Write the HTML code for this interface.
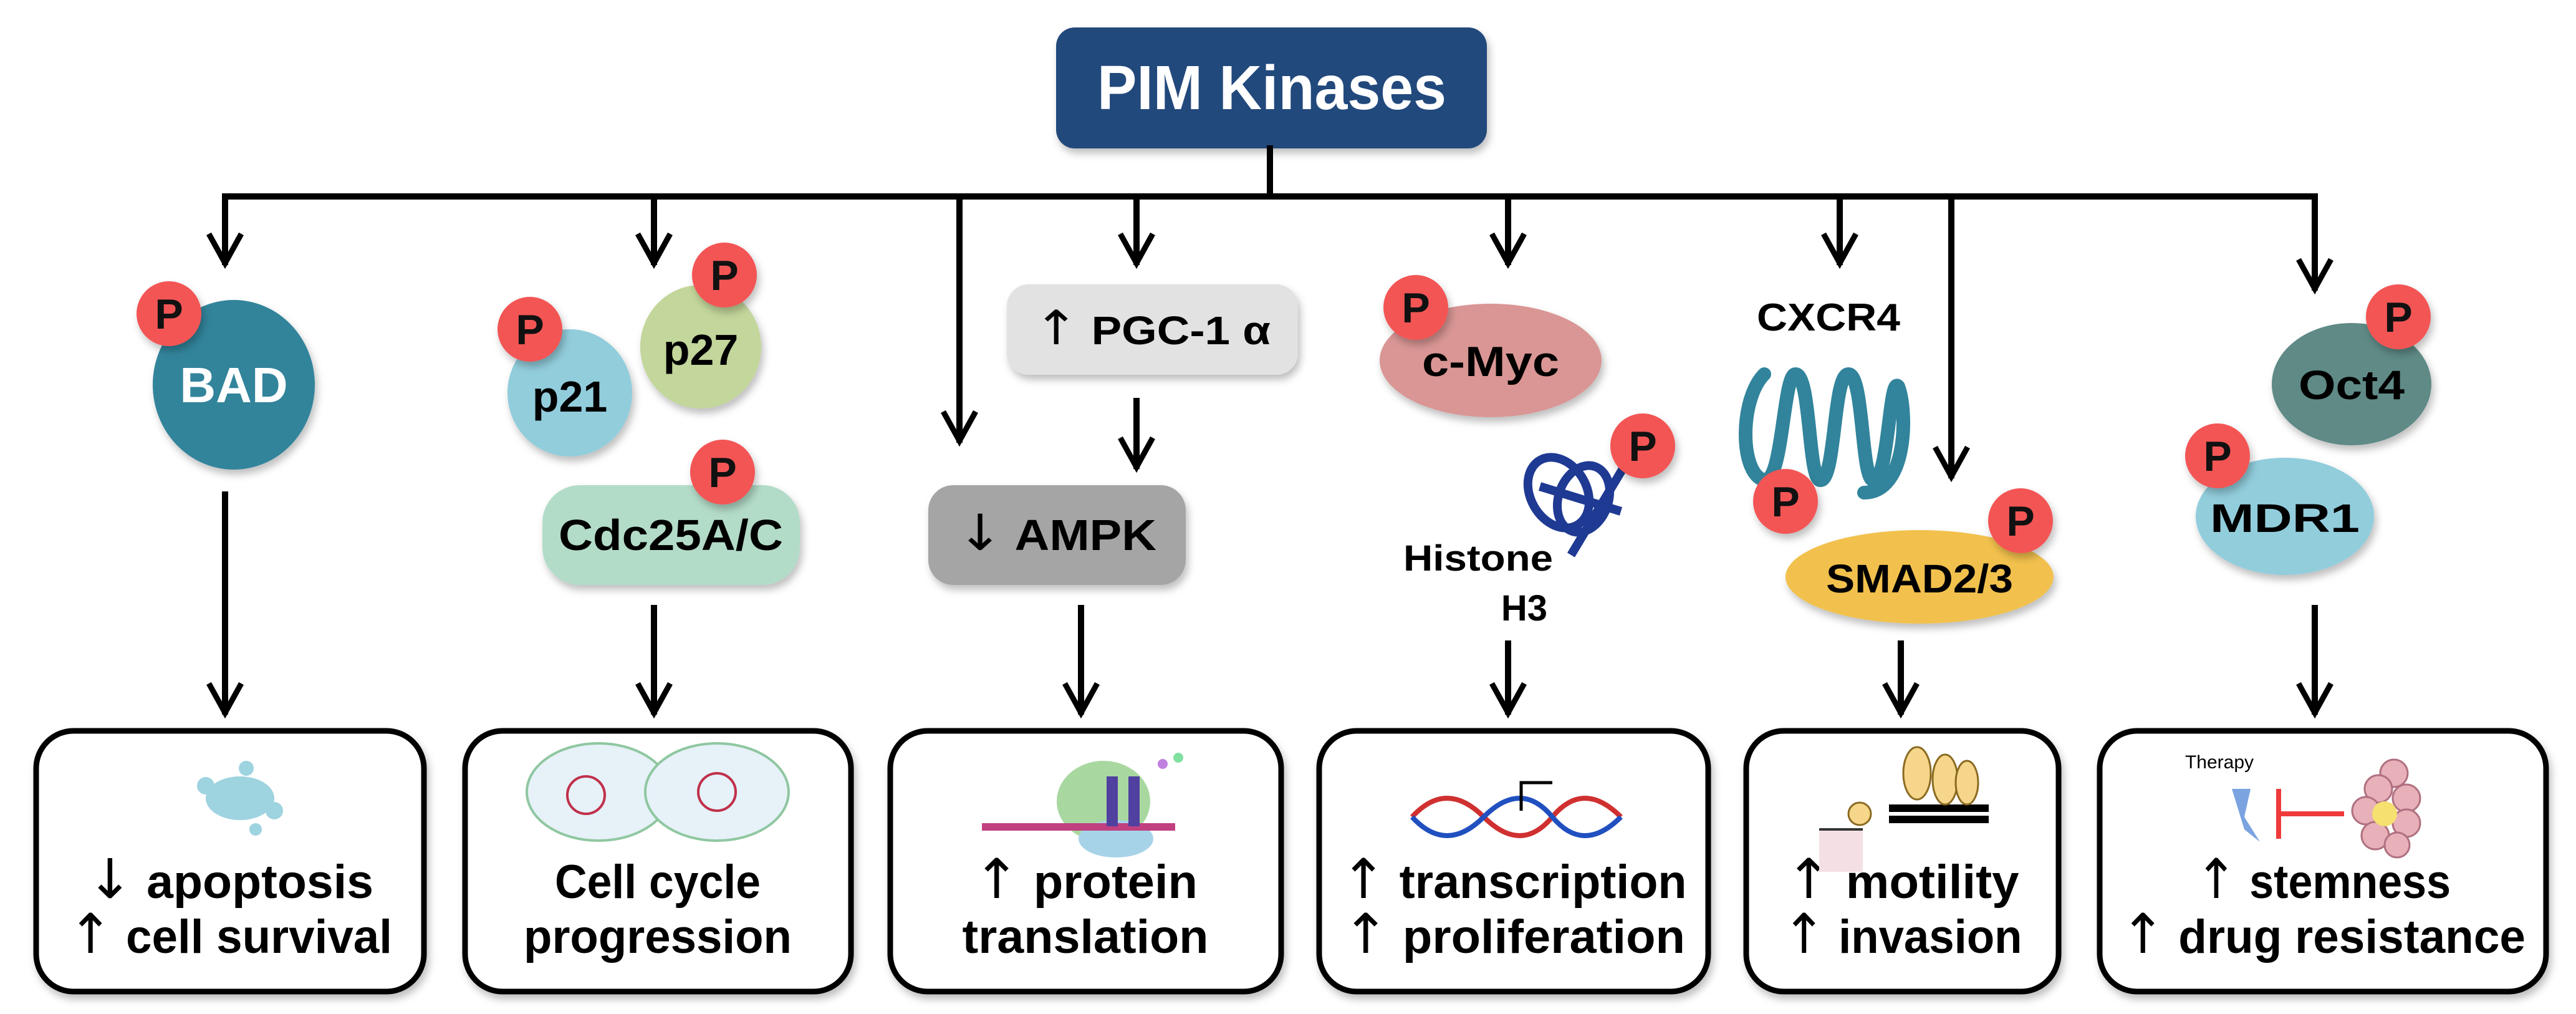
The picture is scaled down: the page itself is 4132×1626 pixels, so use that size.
<!DOCTYPE html>
<html><head><meta charset="utf-8"><style>
html,body{margin:0;padding:0;background:#fff;}
svg{display:block;}
text{font-family:"Liberation Sans",sans-serif;font-weight:bold;}
.ar{font-family:"DejaVu Sans",sans-serif;font-weight:normal;font-size:88px;}
</style></head><body>
<svg width="4132" height="1626" viewBox="0 0 4132 1626" xmlns="http://www.w3.org/2000/svg">
<defs>
<filter id="sh" x="-20%" y="-20%" width="140%" height="150%"><feDropShadow dx="4" dy="8" stdDeviation="6" flood-color="#000" flood-opacity="0.25"/></filter>
</defs>
<rect x="1694" y="44" width="691" height="194" rx="30" fill="#214a7c" filter="url(#sh)"/>
<text x="2040" y="175" font-size="100" fill="#fff" text-anchor="middle" textLength="560" lengthAdjust="spacingAndGlyphs">PIM Kinases</text>

<g stroke="#000" stroke-width="10" fill="none" stroke-linecap="square">
<line x1="2037" y1="238" x2="2037" y2="315"/>
<line x1="361" y1="315" x2="3713" y2="315"/>
<line x1="361" y1="315" x2="361" y2="420"/>
<line x1="1049" y1="315" x2="1049" y2="420"/>
<line x1="1539" y1="315" x2="1539" y2="705"/>
<line x1="1823" y1="315" x2="1823" y2="420"/>
<line x1="2419" y1="315" x2="2419" y2="420"/>
<line x1="2951" y1="315" x2="2951" y2="420"/>
<line x1="3130" y1="315" x2="3130" y2="762"/>
<line x1="3713" y1="315" x2="3713" y2="461"/>
<line x1="1823" y1="643" x2="1823" y2="747"/>
<line x1="361" y1="793" x2="361" y2="1141"/>
<line x1="1049" y1="975" x2="1049" y2="1141"/>
<line x1="1734" y1="975" x2="1734" y2="1141"/>
<line x1="2419" y1="1032" x2="2419" y2="1141"/>
<line x1="3049" y1="1032" x2="3049" y2="1141"/>
<line x1="3713" y1="975" x2="3713" y2="1141"/>
</g>
<g stroke="#000" stroke-width="9" fill="none" stroke-linejoin="miter">
<polyline points="335,375 361,422 387,375"/>
<polyline points="1023,375 1049,422 1075,375"/>
<polyline points="1513,660 1539,707 1565,660"/>
<polyline points="1797,375 1823,422 1849,375"/>
<polyline points="2393,375 2419,422 2445,375"/>
<polyline points="2925,375 2951,422 2977,375"/>
<polyline points="3104,717 3130,764 3156,717"/>
<polyline points="3687,416 3713,463 3739,416"/>
<polyline points="1797,702 1823,749 1849,702"/>
<polyline points="335,1096 361,1143 387,1096"/>
<polyline points="1023,1096 1049,1143 1075,1096"/>
<polyline points="1708,1096 1734,1143 1760,1096"/>
<polyline points="2393,1096 2419,1143 2445,1096"/>
<polyline points="3023,1096 3049,1143 3075,1096"/>
<polyline points="3687,1096 3713,1143 3739,1096"/>
</g>

<g filter="url(#sh)">
<ellipse cx="375" cy="617" rx="130" ry="136" fill="#31849b"/>
<ellipse cx="914" cy="630" rx="100" ry="102" fill="#92cddc"/>
<ellipse cx="1124" cy="556" rx="97" ry="99" fill="#c3d69b"/>
<rect x="870" y="778" width="413" height="160" rx="60" fill="#b3dcc8"/>
<rect x="1615" y="456" width="467" height="145" rx="35" fill="#e2e2e2"/>
<rect x="1489" y="778" width="413" height="160" rx="40" fill="#a5a5a5"/>
<ellipse cx="2391" cy="578" rx="178" ry="91" fill="#d99694"/>
<ellipse cx="3079" cy="925" rx="215" ry="75" fill="#f2c14e"/>
<ellipse cx="3772" cy="616" rx="128" ry="98" fill="#5f8a86"/>
<ellipse cx="3665" cy="828" rx="143" ry="94" fill="#92cddc"/>
</g>
<text x="375" y="645" font-size="80" fill="#fff" text-anchor="middle">BAD</text>
<text x="914" y="660" font-size="70" fill="#000" text-anchor="middle">p21</text>
<text x="1124" y="585" font-size="70" fill="#000" text-anchor="middle">p27</text>
<text x="1076" y="882" font-size="70" fill="#000" text-anchor="middle" textLength="360" lengthAdjust="spacingAndGlyphs">Cdc25A/C</text>
<text x="1848" y="552" font-size="64" fill="#000" text-anchor="middle" textLength="380" lengthAdjust="spacingAndGlyphs"><tspan class="ar" style="font-size:76px">↑</tspan> PGC-1 α</text>
<text x="1695" y="882" font-size="70" fill="#000" text-anchor="middle" textLength="320" lengthAdjust="spacingAndGlyphs"><tspan class="ar" style="font-size:80px">↓</tspan> AMPK</text>
<text x="2391" y="603" font-size="68" fill="#000" text-anchor="middle" textLength="220" lengthAdjust="spacingAndGlyphs">c-Myc</text>
<text x="3079" y="950" font-size="64" fill="#000" text-anchor="middle" textLength="300" lengthAdjust="spacingAndGlyphs">SMAD2/3</text>
<text x="3772" y="640" font-size="66" fill="#000" text-anchor="middle" textLength="170" lengthAdjust="spacingAndGlyphs">Oct4</text>
<text x="3665" y="853" font-size="64" fill="#000" text-anchor="middle" textLength="240" lengthAdjust="spacingAndGlyphs">MDR1</text>
<text x="2933" y="530" font-size="62" fill="#000" text-anchor="middle" textLength="230" lengthAdjust="spacingAndGlyphs">CXCR4</text>
<text x="2371" y="915" font-size="58" fill="#000" text-anchor="middle" textLength="240" lengthAdjust="spacingAndGlyphs">Histone</text>
<text x="2445" y="995" font-size="58" fill="#000" text-anchor="middle">H3</text>

<path d="M2830,600 C2790,640 2790,760 2830,770 C2860,775 2860,600 2880,600 C2905,600 2900,770 2920,770 C2945,770 2940,600 2965,600 C2990,600 2985,770 3005,770 C3030,770 3030,600 3045,620 C3060,660 3060,790 2990,790" stroke="#31849b" stroke-width="22" fill="none" stroke-linecap="round"/>
<g stroke="#1f3a93" stroke-width="14" fill="none">
<ellipse cx="2500" cy="790" rx="45" ry="60" transform="rotate(-30 2500 790)"/>
<ellipse cx="2540" cy="800" rx="40" ry="55" transform="rotate(20 2540 800)"/>
<line x1="2520" y1="890" x2="2610" y2="740"/>
<line x1="2470" y1="780" x2="2600" y2="820"/>
</g>

<g>
<g fill="#f35454" filter="url(#sh)">
<circle cx="271" cy="503" r="52"/><circle cx="850" cy="528" r="52"/><circle cx="1162" cy="441" r="52"/>
<circle cx="1159" cy="757" r="52"/><circle cx="2271" cy="493" r="52"/><circle cx="2635" cy="715" r="52"/>
<circle cx="2864" cy="804" r="52"/><circle cx="3241" cy="835" r="52"/><circle cx="3847" cy="508" r="52"/>
<circle cx="3557" cy="731" r="52"/>
</g>
<g font-size="68" fill="#111" text-anchor="middle">
<text x="271" y="527">P</text><text x="850" y="552">P</text><text x="1162" y="465">P</text>
<text x="1159" y="781">P</text><text x="2271" y="517">P</text><text x="2635" y="739">P</text>
<text x="2864" y="828">P</text><text x="3241" y="859">P</text><text x="3847" y="532">P</text>
<text x="3557" y="755">P</text>
</g>
</g>

<g fill="#fff" stroke="#000" stroke-width="9" filter="url(#sh)">
<rect x="58" y="1172" width="622" height="418" rx="60"/>
<rect x="746" y="1172" width="619" height="418" rx="60"/>
<rect x="1428" y="1172" width="627" height="418" rx="60"/>
<rect x="2116" y="1172" width="624" height="418" rx="60"/>
<rect x="2801" y="1172" width="501" height="418" rx="60"/>
<rect x="3368" y="1172" width="716" height="418" rx="60"/>
</g>
<g font-size="76" fill="#000" text-anchor="middle">
<text x="369" y="1440" textLength="460" lengthAdjust="spacingAndGlyphs"><tspan class="ar">↓</tspan> apoptosis</text>
<text x="369" y="1528" textLength="520" lengthAdjust="spacingAndGlyphs"><tspan class="ar">↑</tspan> cell survival</text>
<text x="1055" y="1440" textLength="330" lengthAdjust="spacingAndGlyphs">Cell cycle</text>
<text x="1055" y="1528" textLength="430" lengthAdjust="spacingAndGlyphs">progression</text>
<text x="1741" y="1440" textLength="360" lengthAdjust="spacingAndGlyphs"><tspan class="ar">↑</tspan> protein</text>
<text x="1741" y="1528" textLength="395" lengthAdjust="spacingAndGlyphs">translation</text>
<text x="2428" y="1440" textLength="555" lengthAdjust="spacingAndGlyphs"><tspan class="ar">↑</tspan> transcription</text>
<text x="2428" y="1528" textLength="550" lengthAdjust="spacingAndGlyphs"><tspan class="ar">↑</tspan> proliferation</text>
<text x="3051" y="1440" textLength="375" lengthAdjust="spacingAndGlyphs"><tspan class="ar">↑</tspan> motility</text>
<text x="3051" y="1528" textLength="385" lengthAdjust="spacingAndGlyphs"><tspan class="ar">↑</tspan> invasion</text>
<text x="3726" y="1440" textLength="410" lengthAdjust="spacingAndGlyphs"><tspan class="ar">↑</tspan> stemness</text>
<text x="3726" y="1528" textLength="650" lengthAdjust="spacingAndGlyphs"><tspan class="ar">↑</tspan> drug resistance</text>
</g>

<g fill="#9ed3e0"><ellipse cx="385" cy="1280" rx="55" ry="35"/><circle cx="330" cy="1260" r="14"/><circle cx="440" cy="1300" r="14"/><circle cx="395" cy="1232" r="12"/><circle cx="410" cy="1330" r="10"/></g>
<g stroke="#8fc7a0" fill="#e6f1f8" stroke-width="4"><ellipse cx="960" cy="1270" rx="115" ry="78"/><ellipse cx="1150" cy="1270" rx="115" ry="78"/></g>
<g stroke="#c0304a" stroke-width="4" fill="none"><circle cx="940" cy="1275" r="30"/><circle cx="1150" cy="1270" r="30"/></g>
<g><ellipse cx="1770" cy="1285" rx="75" ry="65" fill="#a8d8a0"/><ellipse cx="1790" cy="1345" rx="60" ry="30" fill="#a7d3e8"/><rect x="1575" y="1320" width="310" height="12" fill="#c04080"/><rect x="1775" y="1245" width="18" height="80" fill="#5040a0"/><rect x="1810" y="1245" width="18" height="80" fill="#5040a0"/><circle cx="1865" cy="1225" r="8" fill="#c080e0"/><circle cx="1890" cy="1215" r="8" fill="#80e0a0"/></g>
<g stroke-width="8" fill="none"><path d="M2265,1310 Q2320,1250 2380,1310 T2490,1310 T2600,1310" stroke="#d03030"/><path d="M2265,1310 Q2320,1370 2380,1310 T2490,1310 T2600,1310" stroke="#2050c0"/><path d="M2440,1300 L2440,1255 L2490,1255" stroke="#000" stroke-width="5"/></g>
<g><rect x="2918" y="1330" width="70" height="68" fill="#f4e0e4"/><line x1="2918" y1="1330" x2="2988" y2="1330" stroke="#333" stroke-width="4"/><circle cx="2983" cy="1305" r="18" fill="#f5d68a" stroke="#8a6a20" stroke-width="3"/><rect x="3030" y="1290" width="160" height="12" fill="#000"/><rect x="3030" y="1308" width="160" height="12" fill="#000"/><ellipse cx="3075" cy="1240" rx="22" ry="42" fill="#f5d68a" stroke="#8a6a20" stroke-width="3"/><ellipse cx="3120" cy="1250" rx="20" ry="40" fill="#f5d68a" stroke="#8a6a20" stroke-width="3"/><ellipse cx="3155" cy="1255" rx="18" ry="35" fill="#f5d68a" stroke="#8a6a20" stroke-width="3"/></g>
<text x="3560" y="1232" font-size="30" text-anchor="middle" style="font-weight:normal">Therapy</text>
<g><path d="M3580,1265 L3610,1265 L3600,1310 L3625,1350 L3600,1330 Z" fill="#7aa3e0"/><line x1="3655" y1="1265" x2="3655" y2="1345" stroke="#f03a3a" stroke-width="8"/><line x1="3655" y1="1305" x2="3760" y2="1305" stroke="#f03a3a" stroke-width="8"/>
<g fill="#e8b0b8" stroke="#b07080" stroke-width="3"><circle cx="3840" cy="1240" r="22"/><circle cx="3815" cy="1265" r="22"/><circle cx="3860" cy="1280" r="22"/><circle cx="3795" cy="1300" r="22"/><circle cx="3860" cy="1320" r="22"/><circle cx="3810" cy="1340" r="22"/><circle cx="3845" cy="1355" r="20"/></g><circle cx="3825" cy="1305" r="20" fill="#f5e070"/></g>
</svg>
</body></html>
